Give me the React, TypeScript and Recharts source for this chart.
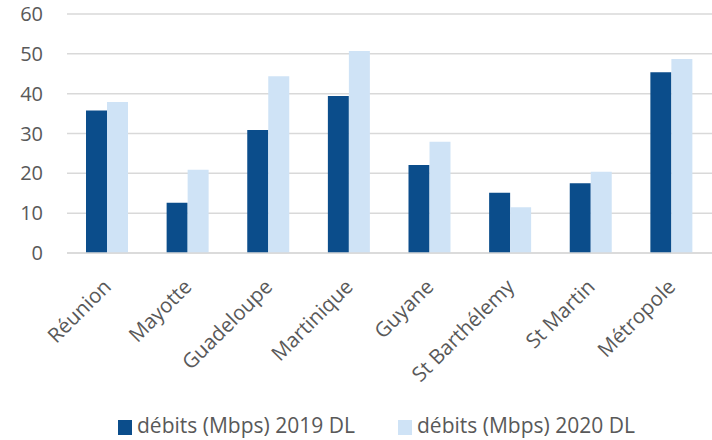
import { BarChart, Bar, XAxis, YAxis, CartesianGrid } from "recharts";

const regions = ["Réunion", "Mayotte", "Guadeloupe", "Martinique", "Guyane", "St Barthélemy", "St Martin", "Métropole"];
const dl2019 = [35.8, 12.6, 30.9, 39.4, 22.1, 15.1, 17.5, 45.4];
const dl2020 = [37.9, 20.9, 44.4, 50.7, 27.9, 11.5, 20.4, 48.7];
const yTicks = [0, 10, 20, 30, 40, 50, 60];
const seriesNames = ["débits (Mbps) 2019 DL", "débits (Mbps) 2020 DL"];

const data = regions.map((r, i) => ({ region: r, y2019: dl2019[i], y2020: dl2020[i] }));

const DARK = "#0b4d8b";
const LIGHT = "#cfe3f6";
const TEXT = "#595959";
const FONT = "'Open Sans', sans-serif";

const RotTick = ({ x, y, payload }: any) => (
  <text x={0} y={0} transform={`translate(${x + 5},${y + 27}) rotate(-45)`}
    textAnchor="end" fill={TEXT} fontSize={20.5} fontFamily={FONT}>
    {payload.value}
  </text>
);

export default function App() {
  return (
    <div style={{ position: "absolute", left: 0, top: 0, width: 712, height: 440, background: "#fff" }}>
      <BarChart width={712} height={440} data={data} barGap={0} barSize={21}
        margin={{ top: 14, right: 0, left: 0, bottom: 0 }}>
        <CartesianGrid vertical={false} stroke="#d9d9d9" strokeWidth={1.5} />
        <XAxis dataKey="region" height={187} interval={0} tickLine={false}
          axisLine={{ stroke: "#d9d9d9", strokeWidth: 1.5 }} tick={<RotTick />} />
        <YAxis width={67} domain={[0, 60]} ticks={yTicks} tickLine={false} axisLine={false}
          tickSize={0} tickMargin={24} interval={0}
          tick={{ fill: TEXT, fontSize: 20, fontFamily: FONT }} />
        <Bar dataKey="y2019" fill={DARK} isAnimationActive={false} />
        <Bar dataKey="y2020" fill={LIGHT} isAnimationActive={false} />
      </BarChart>
      {/* legend */}
      <div style={{ position: "absolute", top: 413, left: 0, width: 712, fontFamily: FONT, fontSize: 21, color: TEXT }}>
        {seriesNames.map((n, i) => (
          <div key={n} style={{ position: "absolute", left: i === 0 ? 118 : 398, top: 0, display: "flex", alignItems: "center", whiteSpace: "nowrap" }}>
            <span style={{ display: "inline-block", width: 14, height: 15, position: "relative", top: 2.5, background: i === 0 ? DARK : LIGHT, marginRight: 5 }} />
            <span style={{ lineHeight: "24px" }}>{n}</span>
          </div>
        ))}
      </div>
    </div>
  );
}
